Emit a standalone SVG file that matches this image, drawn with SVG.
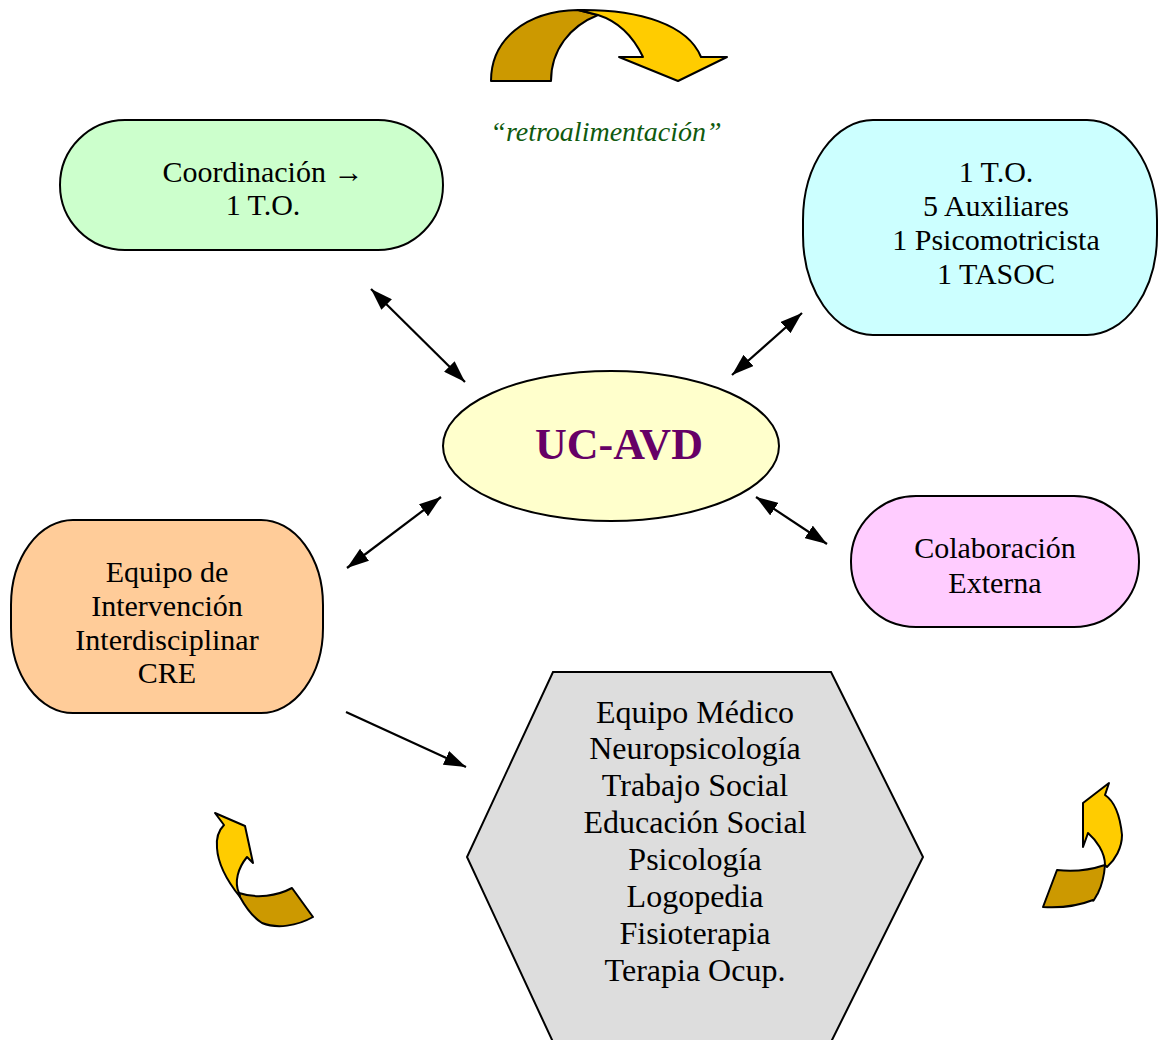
<svg xmlns="http://www.w3.org/2000/svg" width="1158" height="1040" viewBox="0 0 1158 1040">
<style>
.n{stroke:#000;stroke-width:2}
.t{font-family:"Liberation Serif","Times New Roman",serif;font-size:30px;fill:#000;text-anchor:middle}
.h{font-size:32px}
.c{stroke:#000;stroke-width:2.2;fill:none}
.lt{fill:#ffcc00;stroke:#000;stroke-width:2;stroke-linejoin:round}
.dk{fill:#cc9900;stroke:#000;stroke-width:2;stroke-linejoin:round}
</style>
<defs>
<marker id="ah" viewBox="0 0 22 15" refX="22" refY="7.5" markerWidth="22" markerHeight="15" markerUnits="userSpaceOnUse" orient="auto-start-reverse">
<path d="M0,0 L22,7.5 L0,15 Z" fill="#000"/>
</marker>
</defs>
<rect width="1158" height="1040" fill="#fff"/>

<g id="feedback-top">
<path class="dk" d="M491,81 C491,40 525,11 578,10 L598,15 C570,26 551,50 551,81 Z"/>
<path class="lt" d="M578,10 C640,9 688,25 701,57 L727,57 L678,81 L619,57 L643,57 C632,34 617,21 598,15 Z"/>
</g>
<g id="feedback-left">
<path class="dk" d="M239,893 C257,899 277,896 292,888 L313,917 C297,926 277,929 262,923 C254,918 246,908 240,897 Z"/>
<path class="lt" d="M215,813 L245,826 L253,863 L247,857 C238,868 234,882 239,893 L240,897 C228,882 218,865 217,848 C216,838 218,831 224,825 Z"/>
</g>
<g id="feedback-right">
<path class="dk" d="M1057,870 C1073,872 1090,870 1105,865 C1104,878 1101,887 1098,893 C1094,900 1093,902 1093,900 C1078,906 1060,908 1043,907 Z"/>
<path class="lt" d="M1109,783 L1105,795 C1114,801 1120,815 1122,835 C1122,848 1115,860 1107,867 L1105,865 C1105,852 1096,840 1088,833 L1083,847 L1083,803 Z"/>
</g>

<g id="connectors">
<line class="c" x1="371" y1="289" x2="465" y2="382" marker-start="url(#ah)" marker-end="url(#ah)"/>
<line class="c" x1="802" y1="313" x2="732" y2="375" marker-start="url(#ah)" marker-end="url(#ah)"/>
<line class="c" x1="441" y1="497" x2="347" y2="568" marker-start="url(#ah)" marker-end="url(#ah)"/>
<line class="c" x1="756" y1="497" x2="827" y2="544" marker-start="url(#ah)" marker-end="url(#ah)"/>
<line class="c" x1="346" y1="712" x2="466" y2="767" marker-end="url(#ah)"/>
</g>

<g id="retro">
<text x="606" y="141" style="font-family:'Liberation Serif','Times New Roman',serif;font-size:28px;font-style:italic;fill:#0f5a0f;text-anchor:middle">“retroalimentación”</text>
</g>

<g id="coordinacion">
<rect class="n" x="60" y="120" width="383" height="130" rx="65" ry="65" fill="#ccffcc"/>
<text class="t" x="263" y="182">Coordinación →</text>
<text class="t" x="263" y="215">1 T.O.</text>
</g>

<g id="equipo-uc">
<rect class="n" x="803" y="120" width="354" height="215" rx="70" ry="100" fill="#ccffff"/>
<text class="t" x="996" y="182">1 T.O.</text>
<text class="t" x="996" y="216">5 Auxiliares</text>
<text class="t" x="996" y="250">1 Psicomotricista</text>
<text class="t" x="996" y="284">1 TASOC</text>
</g>

<g id="uc-avd">
<ellipse class="n" cx="611" cy="446" rx="168" ry="75" fill="#ffffcc"/>
<text x="619" y="459" style="font-family:'Liberation Serif','Times New Roman',serif;font-size:44px;font-weight:bold;fill:#660066;text-anchor:middle">UC-AVD</text>
</g>

<g id="colaboracion">
<rect class="n" x="851" y="496" width="288" height="131" rx="65" ry="65" fill="#ffccff"/>
<text class="t" x="995" y="558">Colaboración</text>
<text class="t" x="995" y="593">Externa</text>
</g>

<g id="equipo-intervencion">
<rect class="n" x="11" y="520" width="312" height="193" rx="62" ry="85" fill="#ffcc99"/>
<text class="t" x="167" y="582">Equipo de</text>
<text class="t" x="167" y="616">Intervención</text>
<text class="t" x="167" y="650">Interdisciplinar</text>
<text class="t" x="167" y="683">CRE</text>
</g>

<g id="equipo-medico">
<polygon class="n" points="553,672 831,672 923,857 831,1042 553,1042 467,857" fill="#dddddd"/>
<text class="t h" x="695" y="723">Equipo Médico</text>
<text class="t h" x="695" y="759">Neuropsicología</text>
<text class="t h" x="695" y="796">Trabajo Social</text>
<text class="t h" x="695" y="833">Educación Social</text>
<text class="t h" x="695" y="870">Psicología</text>
<text class="t h" x="695" y="907">Logopedia</text>
<text class="t h" x="695" y="944">Fisioterapia</text>
<text class="t h" x="695" y="981">Terapia Ocup.</text>
</g>
</svg>
